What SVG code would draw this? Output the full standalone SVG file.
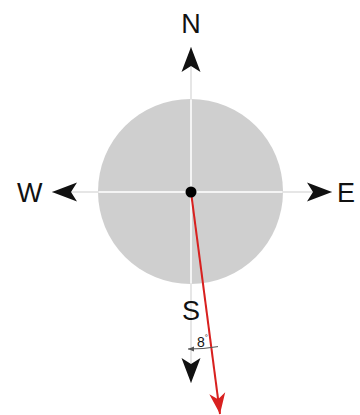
<svg xmlns="http://www.w3.org/2000/svg" width="360" height="415" viewBox="0 0 360 415">
<style>
.lbl{font-family:"Liberation Sans",Arial,sans-serif;font-size:27px;fill:#111}
.axis{stroke:#e6e6e6;stroke-width:2;fill:none}
.axisin{stroke:#f4f4f4;stroke-width:2;fill:none}
</style>
<defs>
<marker id="ab" viewBox="-26 -11 27 22" refX="0" refY="0" markerWidth="27" markerHeight="22" markerUnits="userSpaceOnUse" orient="auto">
<path d="M0,0 L-25,-9.5 L-19,0 L-25,9.5 Z" fill="#111"/>
</marker>
<marker id="ar" viewBox="-22 -9 23 18" refX="0" refY="0" markerWidth="23" markerHeight="18" markerUnits="userSpaceOnUse" orient="auto">
<path d="M0,0 L-21,-8 L-15,0 L-21,8 Z" fill="#d8201f"/>
</marker>
<marker id="as" viewBox="-6 -3 7 6" refX="0" refY="0" markerWidth="7" markerHeight="6" markerUnits="userSpaceOnUse" orient="auto">
<path d="M0,0 L-6,-2.5 L-6,2.5 Z" fill="#555"/>
</marker>
</defs>
<rect width="360" height="415" fill="#fff"/>
<g id="dial">
<circle cx="190.5" cy="191.5" r="92.5" fill="#cfcfcf"/>
</g>
<g id="connectors">
<line class="axis" x1="191" y1="192" x2="191" y2="47" marker-end="url(#ab)"/>
<line class="axis" x1="191" y1="192" x2="191" y2="383" marker-end="url(#ab)"/>
<line class="axis" x1="191" y1="192" x2="52" y2="192" marker-end="url(#ab)"/>
<line class="axis" x1="191" y1="192" x2="332" y2="192" marker-end="url(#ab)"/>
<line class="axisin" x1="191" y1="100" x2="191" y2="283"/>
<line class="axisin" x1="99" y1="192" x2="282" y2="192"/>
<line x1="191" y1="192" x2="220" y2="414" stroke="#d8201f" stroke-width="2" marker-end="url(#ar)"/>
<path d="M218,346.6 A157,157 0 0 1 188,349" fill="none" stroke="#555" stroke-width="1" marker-end="url(#as)"/>
</g>
<g id="center">
<circle cx="191" cy="192" r="5.5" fill="#000"/>
</g>
<g id="N"><text class="lbl" x="191" y="33" text-anchor="middle">N</text></g>
<g id="S"><text class="lbl" x="191" y="320" text-anchor="middle">S</text></g>
<g id="W"><text class="lbl" x="17" y="202">W</text></g>
<g id="E"><text class="lbl" x="337" y="202">E</text></g>
<g id="angle"><text x="197" y="347" font-family="Liberation Sans,Arial,sans-serif" font-size="14" fill="#111">8<tspan font-size="8" dy="-7">°</tspan></text></g>
</svg>
